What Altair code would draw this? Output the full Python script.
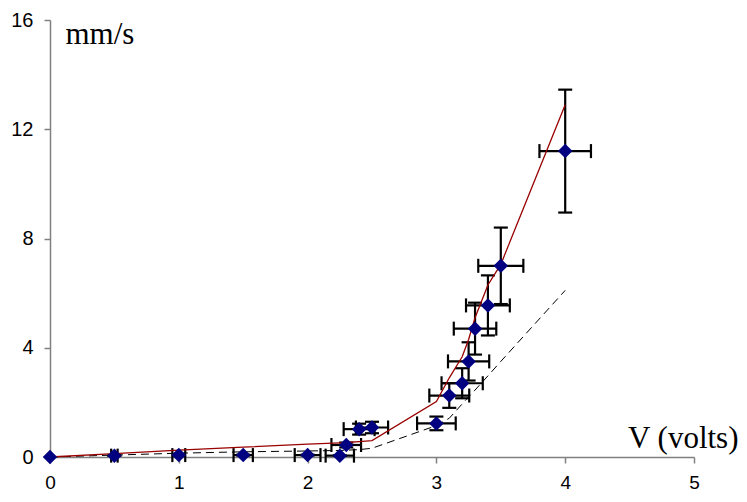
import altair as alt
import pandas as pd

volts = [0, 0.5, 1.0, 1.5, 2.0, 2.25, 2.3, 2.4, 2.5, 3.0, 3.1, 3.2, 3.25, 3.3, 3.4, 3.5, 4.0]
speed = [0, 0.05, 0.07, 0.07, 0.07, 0.05, 0.44, 1.02, 1.08, 1.23, 2.25, 2.7, 3.5, 4.7, 5.55, 7.0, 11.2]
volts_err = [0, 0.025, 0.05, 0.075, 0.1, 0.11, 0.115, 0.12, 0.125, 0.15, 0.155, 0.16, 0.16, 0.165, 0.17, 0.175, 0.2]
speed_err = [0, 0.01, 0.015, 0.015, 0.015, 0.01, 0.09, 0.2, 0.21, 0.25, 0.45, 0.55, 0.7, 0.95, 1.1, 1.4, 2.25]

# Model curves evaluated at the same voltages
fit_solid = [0, 0.12, 0.25, 0.36, 0.47, 0.52, 0.53, 0.56, 0.6, 2.03, 2.9, 3.67, 4.3, 5.1, 6.3, 7.05, 12.9]
fit_dashed = [0, 0.07, 0.14, 0.19, 0.22, 0.24, 0.25, 0.27, 0.32, 1.15, 1.42, 1.94, 2.2, 2.45, 2.97, 3.5, 6.1]

x_ticks = [0, 1, 2, 3, 4, 5]
y_ticks = [0, 4, 8, 12, 16]

df = pd.DataFrame({
    "V": volts, "S": speed, "ex": volts_err, "ey": speed_err,
    "fit1": fit_solid, "fit2": fit_dashed,
})

xs = alt.Scale(domain=[0, 5], nice=False, zero=True)
ys = alt.Scale(domain=[0, 16], nice=False, zero=True)

axis_common = dict(
    grid=False,
    labelFont="Liberation Sans", labelColor="black",
    labelFlush=False, labelOverlap=False,
    tickSize=6, tickColor="#808080", tickWidth=1.5,
    domainColor="#808080", domainWidth=1.5,
    titleFont="Liberation Serif", titleFontSize=31, titleFontWeight="normal",
    titleColor="black", format="d",
)
xaxis = alt.Axis(values=x_ticks, title="V (volts)", labelFontSize=19,
                 labelPadding=25, labelBaseline="alphabetic",
                 titleX=688, titleY=-10, titleAlign="right", titleBaseline="alphabetic",
                 **axis_common)
yaxis = alt.Axis(values=y_ticks, title="mm/s", labelFontSize=20, labelPadding=11, titleAngle=0,
                 titleX=15, titleY=23, titleAlign="left", titleBaseline="alphabetic",
                 **axis_common)

def X(f):
    return alt.X(f, type="quantitative", scale=xs, axis=xaxis)

def Y(f):
    return alt.Y(f, type="quantitative", scale=ys, axis=yaxis)

base = alt.Chart(df).transform_calculate(
    xlo="datum.V - datum.ex", xhi="datum.V + datum.ex",
    ylo="datum.S - datum.ey", yhi="datum.S + datum.ey",
)
err = base.transform_filter("datum.ex > 0")

vbar = err.mark_rule(color="black", strokeWidth=2.2).encode(x=X("V"), y=Y("ylo"), y2="yhi")
hbar = err.mark_rule(color="black", strokeWidth=2.2).encode(x=X("xlo"), x2="xhi", y=Y("S"))
cap_kw = dict(color="black", thickness=2.2, size=14, opacity=1)
vcap_lo = err.mark_tick(orient="horizontal", **cap_kw).encode(x=X("V"), y=Y("ylo"))
vcap_hi = err.mark_tick(orient="horizontal", **cap_kw).encode(x=X("V"), y=Y("yhi"))
hcap_lo = err.mark_tick(orient="vertical", **cap_kw).encode(x=X("xlo"), y=Y("S"))
hcap_hi = err.mark_tick(orient="vertical", **cap_kw).encode(x=X("xhi"), y=Y("S"))

line1 = base.mark_line(color="#990000", strokeWidth=1.3).encode(x=X("V"), y=Y("fit1"))
line2 = base.mark_line(color="black", strokeWidth=1, strokeDash=[8, 5]).encode(x=X("V"), y=Y("fit2"))

pts = base.mark_point(shape="diamond", filled=True, size=210, color="#000080", opacity=1).encode(
    x=X("V"), y=Y("S"))

chart = alt.layer(vbar, hbar, vcap_lo, vcap_hi, hcap_lo, hcap_hi, line2, line1, pts).properties(
    width=644, height=437,
    autosize=alt.AutoSizeParams(type="none"),
    padding={"left": 42, "top": 12, "right": 44, "bottom": 36},
    background="white",
).configure_view(stroke=None)

chart.save("out.html", embed_options={"renderer": "svg", "actions": False})
